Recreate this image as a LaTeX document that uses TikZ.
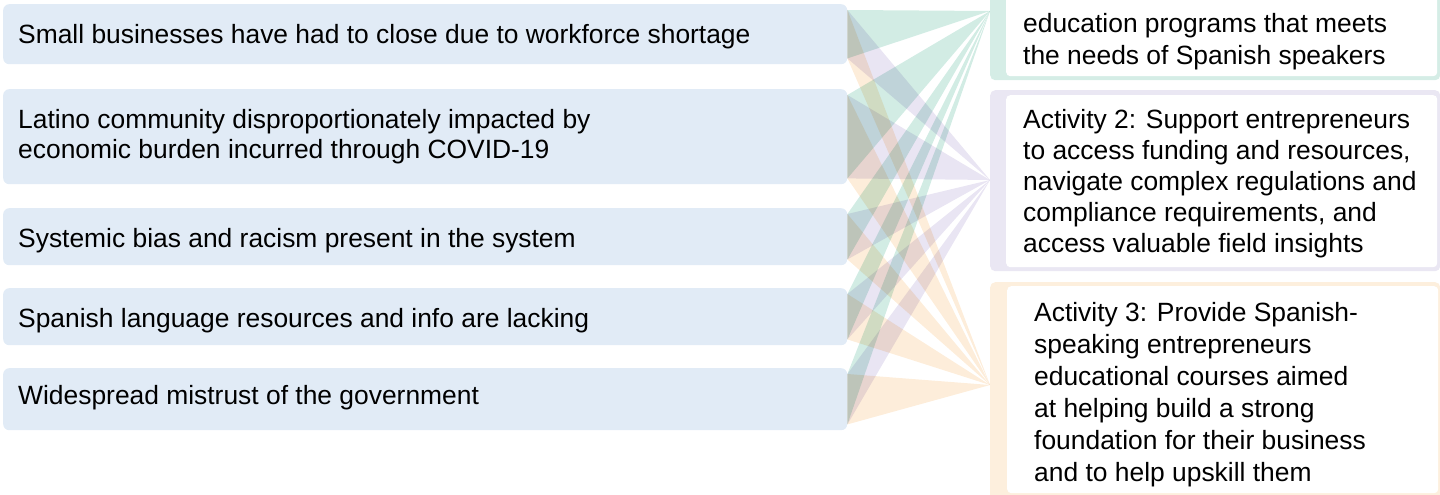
\documentclass[tikz,border=0pt]{standalone}
\usepackage{fontspec}
\setmainfont{Liberation Sans}
\usetikzlibrary{calc}
\definecolor{lboxc}{RGB}{225,235,246}
\definecolor{gout}{RGB}{213,237,230}
\definecolor{lout}{RGB}{234,231,243}
\definecolor{oout}{RGB}{253,239,221}
\definecolor{gfan}{RGB}{210,236,228}
\definecolor{lfan}{RGB}{233,229,243}
\definecolor{ofan}{RGB}{253,237,218}
\begin{document}
\begin{tikzpicture}[x=1pt,y=-1pt,
  lbox/.style={fill=lboxc, rounded corners=6pt, inner sep=0pt, anchor=north west, minimum width=844pt},
  outbox/.style={fill=#1, rounded corners=5pt, inner sep=0pt, anchor=north west, minimum width=450pt},
  inbox/.style={fill=white, rounded corners=4pt, inner sep=0pt, anchor=north west, minimum width=431pt},
  txt/.style={inner sep=0pt, font=\fontsize{26.4}{#1}\selectfont, text=black, align=left, anchor=north west},
  fang/.style={fill=gfan},
  fanl/.style={fill=lfan},
  fano/.style={fill=ofan}
]
\useasboundingbox (0,0) rectangle (1440,495);
\clip (0,0) rectangle (1440,495);

% left boxes
\node[lbox, minimum height=60pt] (L1) at (3,4) {};
\node[lbox, minimum height=95pt] (L2) at (3,89) {};
\node[lbox, minimum height=57pt] (L3) at (3,208) {};
\node[lbox, minimum height=57pt] (L4) at (3,288) {};
\node[lbox, minimum height=62pt] (L5) at (3,368) {};

% fan targets
\coordinate (tg) at (990,11);
\coordinate (tl) at (990,180);
\coordinate (to) at (990,385);

% fans
\begin{scope}[blend mode=multiply]
\foreach \L in {L1,L2,L3,L4,L5}{
  \fill[fang] ($(\L.north east)+(0,6)$) -- ($(\L.south east)+(0,-6)$) -- (tg) -- cycle;
  \fill[fanl] ($(\L.north east)+(0,6)$) -- ($(\L.south east)+(0,-6)$) -- (tl) -- cycle;
  \fill[fano] ($(\L.north east)+(0,6)$) -- ($(\L.south east)+(0,-6)$) -- (to) -- cycle;
}
\end{scope}

% right boxes
\node[outbox=gout, minimum height=90pt] (A1o) at (990,-10) {};
\node[inbox, minimum height=86pt] (A1) at (1006,-10) {};
\node[outbox=lout, minimum height=181pt] (A2o) at (990,90) {};
\node[inbox, minimum height=172pt] (A2) at (1006,95) {};
\node[outbox=oout, minimum height=220pt] (A3o) at (990,282) {};
\node[inbox, minimum height=207pt] (A3) at (1007,286) {};

% left texts
\node[txt=32] (T1) at (18,23) {\rule{0pt}{20pt}Small businesses have had to close due to workforce shortage};
\node[txt=30] (T2) at (18,108) {\rule{0pt}{20pt}Latino community disproportionately impacted by\\economic burden incurred through COVID-19};
\node[txt=32] (T3) at (18,227) {\rule{0pt}{20pt}Systemic bias and racism present in the system};
\node[txt=32] (T4) at (18,307) {\rule{0pt}{20pt}Spanish language resources and info are lacking};
\node[txt=32] (T5) at (18,384) {\rule{0pt}{20pt}Widespread mistrust of the government};

% right texts
\node[txt=32] (U1) at (1023,12) {\rule{0pt}{20pt}education programs that meets\\the needs of Spanish speakers};
\node[txt=31] (U2) at (1023,108) {\rule{0pt}{20pt}Activity 2: Support entrepreneurs\\to access funding and resources,\\navigate complex regulations and\\compliance requirements, and\\access valuable field insights};
\node[txt=32] (U3) at (1034,301) {\rule{0pt}{20pt}Activity 3: Provide Spanish-\\speaking entrepreneurs\\educational courses aimed\\at helping build a strong\\foundation for their business\\and to help upskill them};
\end{tikzpicture}
\end{document}
